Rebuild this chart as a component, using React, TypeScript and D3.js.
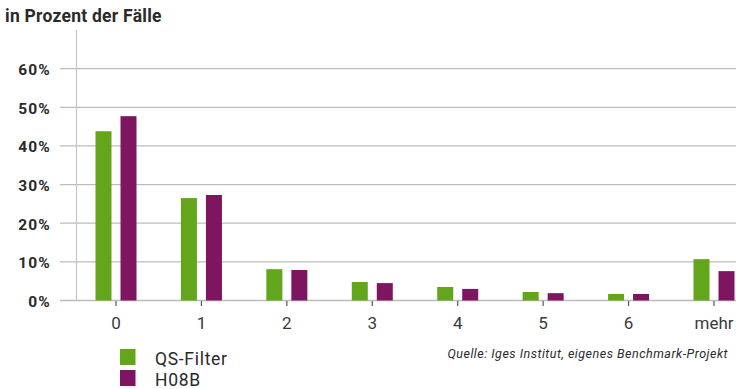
import React from "react";
import * as d3 from "d3";

const categories = ["0", "1", "2", "3", "4", "5", "6", "mehr"];
const qsFilter = [43.8, 26.5, 8.1, 4.8, 3.5, 2.2, 1.7, 10.7];
const h08b = [47.7, 27.3, 7.9, 4.5, 3.0, 1.9, 1.7, 7.6];
const yTicks = [0, 10, 20, 30, 40, 50, 60];
const seriesNames = ["QS-Filter", "H08B"];
const colors = ["#63a51b", "#7d1560"];

const W = 736;
const H = 389;

export default function App() {
  const x = d3.scalePoint<string>().domain(categories).range([116, 714]);
  const y = d3.scaleLinear().domain([0, 70]).range([300.5, 30]);
  const barW = 16;
  const gap = 9;
  const font = "Roboto, sans-serif";
  const series = [qsFilter, h08b];

  return (
    <svg
      width={W}
      height={H}
      style={{ position: "absolute", left: 0, top: 0 }}
    >
      <rect width={W} height={H} fill="#fff" />
      <text x={5} y={21.5} fontFamily={font} fontWeight={700} fontSize={17.5} letterSpacing={0.25} fill="#2a2a2a">
        in Prozent der Fälle
      </text>
      {yTicks.map((t) => (
        <g key={t}>
          <line x1={60} x2={W} y1={y(t)} y2={y(t)} stroke="#bdbdbd" strokeWidth={t === 0 ? 1.6 : 1.2} />
          <text
            x={51}
            y={y(t) + 6.5}
            textAnchor="end"
            fontFamily={font}
            fontWeight={700}
            fontSize={15.5}
            letterSpacing={1.2}
            fill="#2a2a2a"
          >
            {t}%
          </text>
        </g>
      ))}
      <line x1={76.5} x2={76.5} y1={y(70)} y2={y(0)} stroke="#c4c4c4" strokeWidth={1.2} />
      {categories.map((c, i) =>
        series.map((s, k) => {
          const cx = x(c)!;
          const bx = k === 0 ? cx - gap / 2 - barW : cx + gap / 2;
          return (
            <rect
              key={c + k}
              x={bx}
              y={y(s[i])}
              width={barW}
              height={y(0) - y(s[i])}
              fill={colors[k]}
            />
          );
        })
      )}
      {categories.map((c) => (
        <g key={"t" + c}>
          <line x1={x(c)!} x2={x(c)!} y1={301} y2={306} stroke="#555" strokeWidth={1.2} />
          <text
            x={x(c)!}
            y={328.5}
            textAnchor="middle"
            fontFamily={font}
            fontSize={17}
            fill="#3a3a3a"
          >
            {c}
          </text>
        </g>
      ))}
      {seriesNames.map((n, k) => (
        <g key={n}>
          <rect x={120} y={349 + k * 21} width={15.5} height={16} fill={colors[k]} />
          <text x={155} y={364.5 + k * 21} fontFamily={font} fontSize={17.5} letterSpacing={0.7} fill="#2a2a2a">
            {n}
          </text>
        </g>
      ))}
      <text
        x={728}
        y={357.5}
        textAnchor="end"
        fontFamily={font}
        fontStyle="italic"
        fontSize={12.5}
        letterSpacing={0.5}
        fill="#2a2a2a"
      >
        Quelle: Iges Institut, eigenes Benchmark-Projekt
      </text>
    </svg>
  );
}
